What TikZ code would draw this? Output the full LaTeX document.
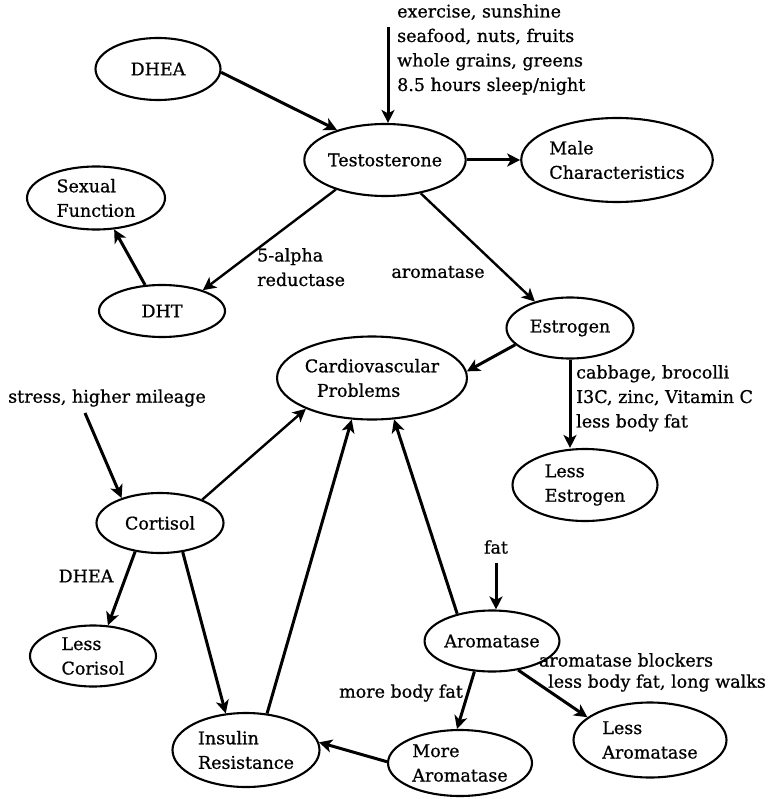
\documentclass[tikz,border=0pt]{standalone}
\usepackage{fontspec}
\setmainfont{DejaVu Serif}[FakeBold=0.8]
\usetikzlibrary{arrows.meta,shapes.geometric}
\begin{document}
\begin{tikzpicture}[x=1pt,y=-1pt,
  every node/.style={font=\fontsize{17.5}{24.5}\selectfont},
  oval/.style={ellipse,draw,line width=2.1pt,inner sep=0pt,align=left},
  conn/.style={line width=3pt,-{Stealth[length=13pt,width=13pt,inset=3.5pt]}},
  thinconn/.style={conn,line width=2.4pt},
  lbl/.style={inner sep=0pt,align=left}]
\useasboundingbox (0,0) rectangle (769,799);
% nodes
\node[oval,minimum width=125pt,minimum height=62pt] (DHEA) at (158,69) {DHEA};
\node[oval,minimum width=153pt,minimum height=72pt] (Testo) at (385,160) {Testosterone};
\node[oval,minimum width=170pt,minimum height=84pt] (Male) at (617,160) {Male\\Characteristics};
\node[oval,minimum width=138pt,minimum height=63pt] (Sex) at (96,198) {Sexual\\Function};
\node[oval,minimum width=126pt,minimum height=52pt] (DHT) at (162,311) {DHT};
\node[oval,minimum width=127pt,minimum height=61pt] (Est) at (570,328) {Estrogen};
\node[oval,minimum width=168pt,minimum height=83pt] (Cardio) at (372,378) {Cardiovascular\\\hspace*{12pt}Problems};
\node[oval,minimum width=127pt,minimum height=60pt] (Cort) at (160,523) {Cortisol};
\node[oval,minimum width=126pt,minimum height=61pt] (LessCor) at (93,656) {Less\\Corisol};
\node[oval,minimum width=147pt,minimum height=74pt] (Ins) at (246,750) {Insulin\\Resistance};
\node[oval,minimum width=145pt,minimum height=72pt] (LessEst) at (585,485) {Less\\Estrogen};
\node[oval,minimum width=126pt,minimum height=61pt] (Arom) at (492,641) {Aromatase};
\node[oval,minimum width=144pt,minimum height=66pt] (MoreArom) at (460,763) {More\\Aromatase};
\node[oval,minimum width=153pt,minimum height=75pt] (LessArom) at (650,740) {Less\\Aromatase};
% labels
\node[lbl,anchor=north west] (tlbl) at (397,4) {exercise, sunshine\\seafood, nuts, fruits\\whole grains, greens\\8.5 hours sleep/night};
\node[lbl,anchor=north west] (alpha) at (257,248) {5-alpha\\reductase};
\node[lbl] (aroml) at (438,272) {aromatase};
\node[lbl,anchor=north west] (cabb) at (576,365) {cabbage, brocolli\\I3C, zinc, Vitamin C\\less body fat};
\node[lbl] (stress) at (107,398) {stress, higher mileage};
\node[lbl] (dhel) at (86,576) {DHEA};
\node[lbl] (fat) at (496,547) {fat};
\node[lbl] (mbf) at (401,693) {more body fat};
\node[lbl] (ab) at (626,660) {aromatase blockers};
\node[lbl] (lbf) at (657,683) {less body fat, long walks};
% free ends
\coordinate (exin) at (388,27);
\coordinate (stin) at (85,413);
\coordinate (fatin) at (496,563);
% connectors
\draw[conn] (DHEA.-3) -- (Testo.148);
\draw[conn] (exin) -- (exin |- Testo.north);
\draw[conn] (Testo) -- (Male);
\draw[thinconn] (Testo.211) -- (DHT.27);
\draw[conn] (DHT.123) -- (Sex.-60);
\draw[thinconn] (Testo.-43) -- (Est.143);
\draw[conn] (Est.197) -- (Cardio.4);
\draw[conn] (Est.south) -- (Est.south |- LessEst.north);
\draw[conn] (stin) -- (Cort.147);
\draw[thinconn] (Cort.29) -- (Cardio.205);
\draw[conn] (Cort.229) -- (LessCor.64);
\draw[conn] (Cort.-52) -- (Ins.119);
\draw[conn] (Ins.60) -- (Cardio.244);
\draw[conn] (MoreArom.179) -- (Ins.6);
\draw[conn] (Arom.142) -- (Cardio.-62);
\draw[conn] (fatin) -- (fatin |- Arom.north);
\draw[conn] (Arom.240) -- (MoreArom.95);
\draw[conn] (Arom.-48) -- (LessArom.160);
\end{tikzpicture}
\end{document}
